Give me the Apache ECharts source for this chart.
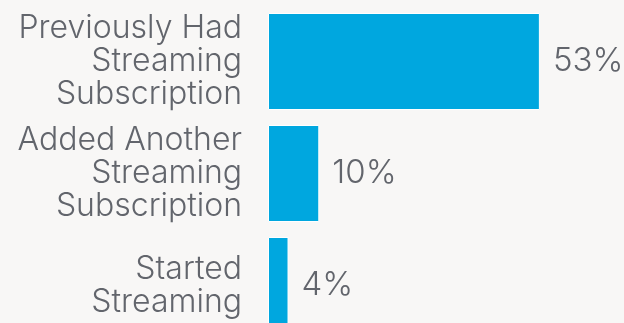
<!DOCTYPE html>
<html>
<head>
<meta charset="utf-8">
<script src="https://cdn.jsdelivr.net/npm/echarts@6/dist/echarts.min.js"></script>
<style>
  html, body { margin: 0; padding: 0; background: #f8f7f6; }
  #chart { width: 624px; height: 323px; }
</style>
</head>
<body>
<div id="chart"></div>
<script>
// Streaming behaviour breakdown, share of respondents (%)
const categories = [
  'Previously Had\nStreaming\nSubscription',
  'Added Another\nStreaming\nSubscription',
  'Started\nStreaming'
];
const shares = [53, 10, 4];

const textColor = '#62656c';
const barColor = '#00a7df';
const fontFamily = 'Inter, "Open Sans", Arial, sans-serif';

const chart = echarts.init(document.getElementById('chart'), null, { renderer: 'canvas' });

chart.setOption({
  backgroundColor: '#f8f7f6',
  animation: false,
  grid: {
    left: 268,
    top: 5.5,
    width: 513,
    height: 336,
    containLabel: false,
    outerBoundsMode: 'none'
  },
  xAxis: {
    type: 'value',
    min: 0,
    max: 100,
    show: false
  },
  yAxis: {
    type: 'category',
    data: categories,
    inverse: true,
    axisLine: { show: false },
    axisTick: { show: false },
    splitLine: { show: false },
    axisLabel: {
      interval: 0,
      hideOverlap: false,
      margin: 26,
      align: 'right',
      color: textColor,
      fontFamily: fontFamily,
      fontWeight: 300,
      fontSize: 32,
      lineHeight: 33,
      padding: [0, 0, 8, 0]
    }
  },
  series: [{
    type: 'bar',
    data: shares,
    barWidth: 97,
    itemStyle: {
      color: barColor,
      borderColor: '#ffffff',
      borderWidth: 1
    },
    label: {
      show: true,
      position: 'right',
      distance: 13,
      formatter: '{c}%',
      color: textColor,
      fontFamily: fontFamily,
      fontWeight: 300,
      fontSize: 33
    }
  }]
});
</script>
</body>
</html>
